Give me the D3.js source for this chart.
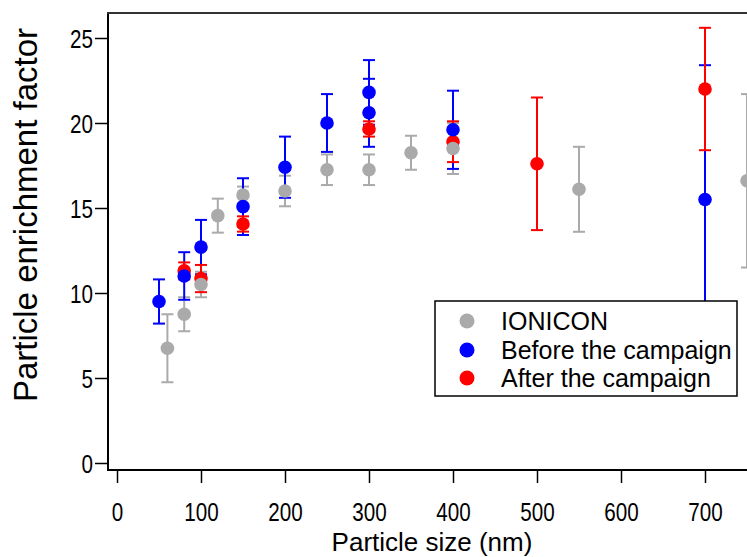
<!DOCTYPE html>
<html>
<head>
<meta charset="utf-8">
<script src="https://cdn.jsdelivr.net/npm/d3@7"></script>
<style>
  html, body { margin: 0; padding: 0; background: #fff; }
  svg { display: block; font-family: "Liberation Sans", Arial, sans-serif; }
</style>
</head>
<body>
<svg id="chart" width="747" height="557"></svg>
<script>
// ---- data ----
const xTicks = [0, 100, 200, 300, 400, 500, 600, 700];
const yTicks = [0, 5, 10, 15, 20, 25];

const ioniconX   = [60, 80, 100, 120, 150, 200, 250, 300, 350, 400, 550, 750];
const ioniconY   = [6.75, 8.75, 10.5, 14.55, 15.76, 16.0, 17.25, 17.25, 18.25, 18.5, 16.1, 16.6];
const ioniconErr = [2.0, 1.0, 0.75, 1.0, 0.5, 0.9, 0.9, 0.9, 1.0, 1.5, 2.5, 5.1];

const beforeX   = [50, 80, 100, 150, 200, 250, 300, 300, 400, 700];
const beforeY   = [9.5, 11.0, 12.7, 15.08, 17.4, 20.0, 21.8, 20.6, 19.6, 15.5];
const beforeErr = [1.3, 1.4, 1.6, 1.67, 1.8, 1.7, 1.9, 2.0, 2.3, 7.9];

const afterX   = [80, 100, 150, 300, 400, 500, 700];
const afterY   = [11.3, 10.85, 14.06, 19.65, 18.9, 17.6, 22.0];
const afterErr = [0.5, 0.8, 0.45, 0.45, 1.2, 3.9, 3.6];

const seriesNames = ["IONICON", "Before the campaign", "After the campaign"];
const seriesColors = ["#aaaaaa", "#0000ff", "#ff0000"];

// ---- build ----
const svg = d3.select("#chart");
const x = d3.scaleLinear().domain([0, 700]).range([117, 705]);
const y = d3.scaleLinear().domain([0, 25]).range([463, 38]);

const frameLeft = 108, frameTop = 13, frameBottom = 470, frameRight = 760;

function pack(xs, ys, es) { return xs.map((d, i) => ({x: d, y: ys[i], e: es[i]})); }
const series = [
  {name: seriesNames[0], color: seriesColors[0], data: pack(ioniconX, ioniconY, ioniconErr)},
  {name: seriesNames[1], color: seriesColors[1], data: pack(beforeX, beforeY, beforeErr)},
  {name: seriesNames[2], color: seriesColors[2], data: pack(afterX, afterY, afterErr)}
];

// error bars (all first)
const capW = 6;
const errG = svg.append("g");
series.forEach(s => {
  const g = errG.append("g").attr("stroke", s.color).attr("stroke-width", 2).attr("fill", "none");
  s.data.forEach(d => {
    const cx = x(d.x), y1 = y(d.y + d.e), y0 = y(d.y - d.e);
    g.append("line").attr("x1", cx).attr("x2", cx).attr("y1", y1).attr("y2", y0);
    g.append("line").attr("x1", cx - capW).attr("x2", cx + capW).attr("y1", y1).attr("y2", y1);
    g.append("line").attr("x1", cx - capW).attr("x2", cx + capW).attr("y1", y0).attr("y2", y0);
  });
});

// dots: red, gray, blue (blue on top)
const dotOrder = [series[2], series[0], series[1]];
dotOrder.forEach(s => {
  svg.append("g").selectAll("circle").data(s.data).join("circle")
    .attr("cx", d => x(d.x)).attr("cy", d => y(d.y)).attr("r", 6.8)
    .attr("fill", s.color);
});

// axes (tick labels slightly condensed)
const tickFont = 24, sx = 0.86, sy = 1.06;
const yAxis = d3.axisLeft(y).tickValues(yTicks).tickSize(13).tickFormat(d3.format("d"));
const yg = svg.append("g").attr("transform", `translate(${frameLeft},0)`).call(yAxis);
yg.select(".domain").remove();
yg.selectAll(".tick line").attr("stroke", "#000").attr("stroke-width", 1.5);
yg.selectAll(".tick text").attr("font-size", tickFont).attr("fill", "#000")
  .attr("font-family", "Liberation Sans, Arial, sans-serif")
  .attr("x", -15 / sx).attr("dy", "0.36em")
  .attr("transform", `scale(${sx},${sy})`);

const xAxis = d3.axisBottom(x).tickValues(xTicks).tickSize(13).tickFormat(d3.format("d"));
const xg = svg.append("g").attr("transform", `translate(0,${frameBottom})`).call(xAxis);
xg.select(".domain").remove();
xg.selectAll(".tick line").attr("stroke", "#000").attr("stroke-width", 1.5);
xg.selectAll(".tick text").attr("font-size", tickFont).attr("fill", "#000")
  .attr("font-family", "Liberation Sans, Arial, sans-serif")
  .attr("y", 33 / sy).attr("dy", "0.71em")
  .attr("transform", `scale(${sx},${sy})`);

// frame
svg.append("line").attr("x1", frameLeft).attr("x2", frameLeft).attr("y1", frameTop).attr("y2", frameBottom)
  .attr("stroke", "#000").attr("stroke-width", 2);
svg.append("line").attr("x1", frameLeft - 1).attr("x2", frameRight).attr("y1", frameBottom).attr("y2", frameBottom)
  .attr("stroke", "#000").attr("stroke-width", 2);
svg.append("line").attr("x1", frameLeft - 1).attr("x2", frameRight).attr("y1", frameTop).attr("y2", frameTop)
  .attr("stroke", "#333", ).attr("stroke-width", 2);

// axis titles
svg.append("text").attr("x", 432).attr("y", 551).attr("text-anchor", "middle")
  .attr("font-size", 26).attr("fill", "#000").text("Particle size (nm)");
svg.append("text").attr("transform", "translate(37,215) rotate(-90)").attr("text-anchor", "middle")
  .attr("font-size", 33).attr("fill", "#000").text("Particle enrichment factor");

// legend
const lg = svg.append("g");
lg.append("rect").attr("x", 435).attr("y", 301).attr("width", 302).attr("height", 95)
  .attr("fill", "#fff").attr("stroke", "#000").attr("stroke-width", 1.5);
const rowsY = [321, 350, 378];
series.forEach((s, i) => {
  lg.append("circle").attr("cx", 467).attr("cy", rowsY[i]).attr("r", 7.5).attr("fill", s.color);
  lg.append("text").attr("x", 501).attr("y", rowsY[i]).attr("dy", "0.35em")
    .attr("font-size", 25).attr("fill", "#000").text(s.name);
});
</script>
</body>
</html>
